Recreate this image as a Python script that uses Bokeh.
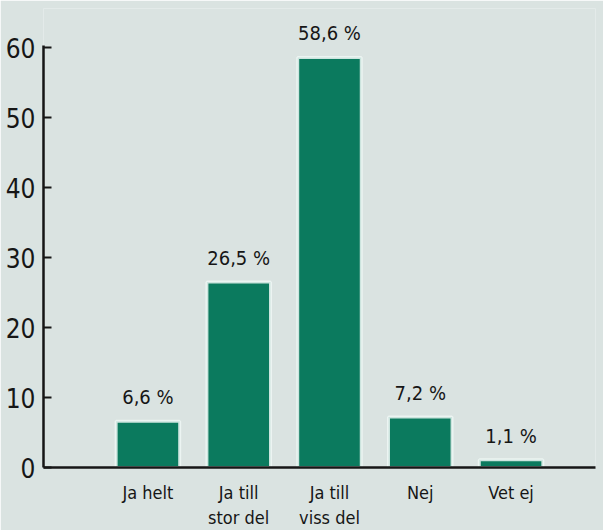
from bokeh.plotting import figure
from bokeh.models import Range1d, FixedTicker, ColumnDataSource, LabelSet
from bokeh.core.properties import value
from bokeh.embed import file_html
from bokeh.resources import INLINE

categories = ["Ja helt", "Ja till\nstor del", "Ja till\nviss del", "Nej", "Vet ej"]
values = [6.6, 26.5, 58.6, 7.2, 1.1]
value_labels = ["6,6 %", "26,5 %", "58,6 %", "7,2 %", "1,1 %"]
y_ticks = [0, 10, 20, 30, 40, 50, 60]

BG = "#dae3e1"
BAR = "#0b7a5e"
INK = "#161616"
FONT = "DejaVu Sans Condensed"

xs = list(range(len(categories)))
src = ColumnDataSource(dict(x=xs, top=values, lab=value_labels))

p = figure(frame_width=552, frame_height=459, output_backend="svg", toolbar_location=None,
           x_range=Range1d(-1.15, 4.93), y_range=Range1d(0, 65.6),
           min_border_left=43, min_border_top=8, min_border_right=8, min_border_bottom=52)
p.background_fill_color = BG
p.border_fill_color = BG
p.outline_line_color = None
p.grid.visible = False

p.vbar(x="x", top="top", width=0.7, bottom=0, source=src, fill_color=BAR,
       line_color="#eef7f5", line_width=3, line_alpha=0.85)

labels = LabelSet(x="x", y="top", text="lab", source=src, text_align="center",
                  text_baseline="bottom", y_offset=12, text_font=value(FONT),
                  text_font_size=value("20px"), text_color=INK)
p.add_layout(labels)

p.xaxis.ticker = FixedTicker(ticks=xs)
p.xaxis.major_label_overrides = {i: c for i, c in enumerate(categories)}
p.xaxis.major_tick_line_color = None
p.xaxis.minor_tick_line_color = None
p.xaxis.axis_line_color = INK
p.xaxis.axis_line_width = 2.5
p.xaxis.major_label_text_font = FONT
p.xaxis.major_label_text_font_size = "18px"
p.xaxis.major_label_text_color = INK
p.xaxis.major_label_standoff = 8

p.yaxis.ticker = FixedTicker(ticks=y_ticks)
p.yaxis.bounds = (0, 60.3)
p.yaxis.minor_tick_line_color = None
p.yaxis.axis_line_color = INK
p.yaxis.axis_line_width = 2.5
p.yaxis.major_tick_in = 8
p.yaxis.major_tick_out = 0
p.yaxis.major_tick_line_color = INK
p.yaxis.major_tick_line_width = 2
p.yaxis.major_label_text_font = FONT
p.yaxis.major_label_text_font_size = "26px"
p.yaxis.major_label_text_color = INK
p.yaxis.major_label_standoff = 8

html = file_html(p, INLINE)
html = html.replace("<body>", "<body style=\"background:%s\">" % BG, 1)
open("out.html", "w").write(html)
